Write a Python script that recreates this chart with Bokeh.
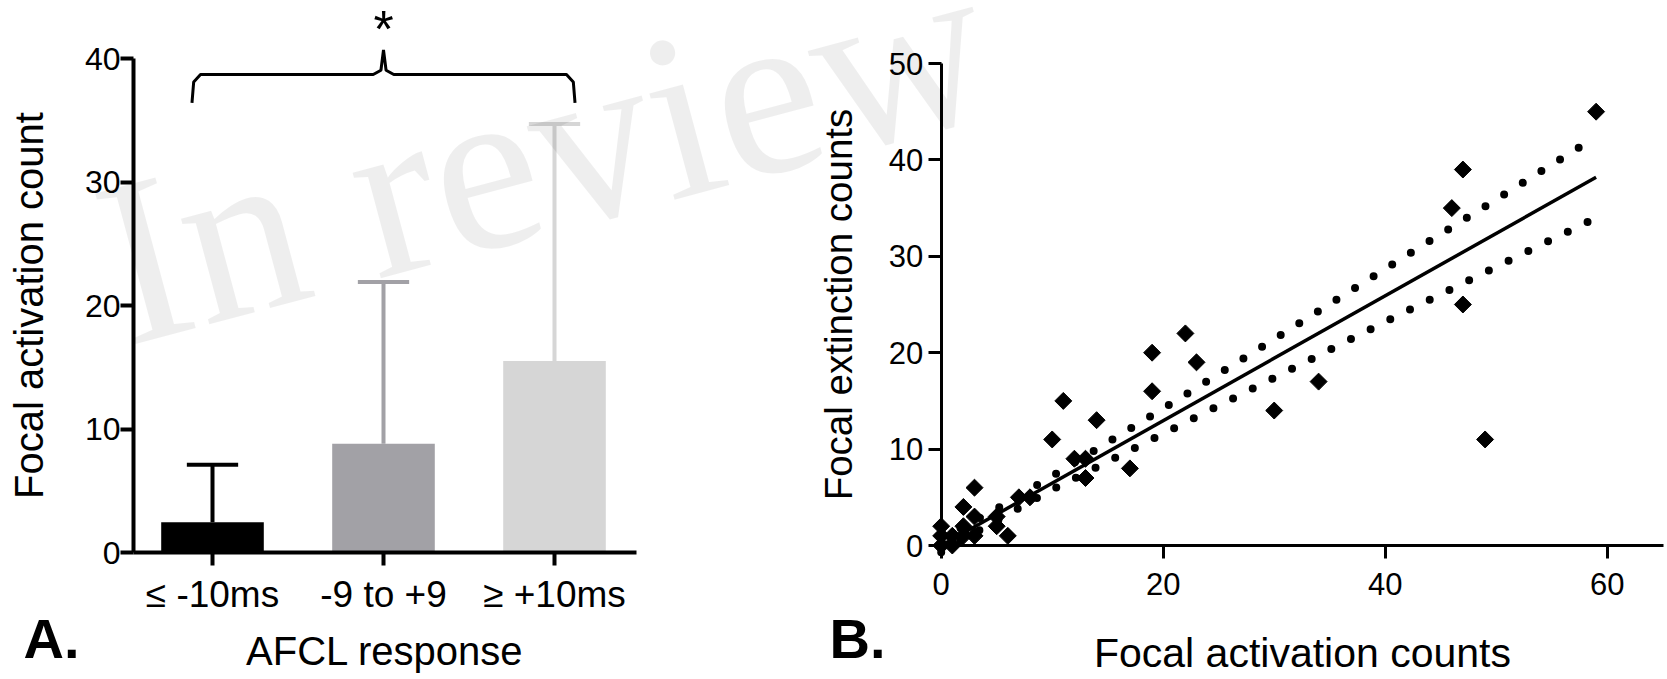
import numpy as np
from bokeh.plotting import figure
from bokeh.models import Range1d, FixedTicker, Label, LinearAxis
from bokeh.core.properties import value
from bokeh.embed import file_html
from bokeh.resources import INLINE

# ---------------- Panel A data ----------------
categories = ["≤ -10ms", "-9 to +9", "≥ +10ms"]
means = [2.45, 8.8, 15.5]
upper_err = [7.1, 21.9, 34.7]
bar_colors = ["#000000", "#a2a1a6", "#d6d6d6"]
y_ticks_a = [0, 10, 20, 30, 40]
sig_label = "*"

# ---------------- Panel B data ----------------
act_counts = [0, 0, 0, 1, 1, 2, 2, 2, 3, 3, 3, 5, 5, 6, 7, 8, 10, 11, 12, 13, 13, 14,
              17, 19, 19, 22, 23, 30, 34, 46, 47, 47, 49, 59]
ext_counts = [0, 1, 2, 0, 1, 1, 2, 4, 1, 3, 6, 2, 3, 1, 5, 5, 11, 15, 9, 9, 7, 13,
              8, 20, 16, 22, 19, 14, 17, 35, 39, 25, 11, 45]
fit_x = [0, 59]
fit_y = [0.0, 38.2]
band_x = [0, 5, 10, 20, 30, 40, 50, 59]
band_upper = [0.7, 3.8, 7.2, 14.2, 21.4, 28.7, 35.9, 42.4]
band_lower = [-0.7, 2.6, 5.8, 11.6, 17.4, 23.2, 28.9, 34.0]
x_ticks_b = [0, 20, 40, 60]
y_ticks_b = [0, 10, 20, 30, 40, 50]

FONT = "Liberation Sans"
W, H = 1667, 679          # whole canvas = one plot frame


def xr(px_at_v0, v0, ppu):
    return Range1d(v0 - px_at_v0 / ppu, v0 + (W - px_at_v0) / ppu)


def yr(py_at_0, ppu):
    return Range1d((py_at_0 - H) / ppu, py_at_0 / ppu)


# panel geometry (page pixels)
A_X1_PX, A_PPU_X = 212, 171        # centre of first category, px per category
A_Y0_PX, A_PPU_Y = 552, 12.35
A_LEFT_PX, A_RIGHT_PX = 133, 636
B_X0_PX, B_PPU_X = 940.7, 11.1
B_Y0_PX, B_PPU_Y = 545, 9.64
B_RIGHT_PX = 1663

p = figure(width=W, height=H, output_backend="svg", toolbar_location=None,
           x_range=Range1d(0, W), y_range=Range1d(0, H),
           x_axis_type=None, y_axis_type=None, title=None,
           min_border=0, min_border_left=0, min_border_right=0,
           min_border_top=0, min_border_bottom=0)
p.outline_line_color = None
p.grid.visible = False
p.extra_x_ranges = {"ax": xr(A_X1_PX, 1, A_PPU_X), "bx": xr(B_X0_PX, 0, B_PPU_X)}
p.extra_y_ranges = {"ay": yr(A_Y0_PX, A_PPU_Y), "by": yr(B_Y0_PX, B_PPU_Y)}


def px_to_ax(px):
    return 1 + (px - A_X1_PX) / A_PPU_X


def px_to_bx(px):
    return (px - B_X0_PX) / B_PPU_X


# ---------------- watermark ----------------
p.add_layout(Label(x=106, y=H - 268, text="In review", angle=15, angle_units="deg",
                   text_font="Liberation Serif", text_font_size="238px", text_color="black",
                   text_alpha=0.065, text_baseline="alphabetic", text_align="left"))

# ---------------- Panel A ----------------
A = dict(x_range_name="ax", y_range_name="ay")
xa = [i + 1 for i in range(len(categories))]
p.vbar(x=xa, top=means, width=0.6, bottom=0, fill_color=bar_colors, line_color=None, **A)
cap = 0.15
p.segment(x0=xa, y0=means, x1=xa, y1=upper_err, line_color=bar_colors, line_width=4, **A)
p.segment(x0=[v - cap for v in xa], y0=upper_err, x1=[v + cap for v in xa], y1=upper_err,
          line_color=bar_colors, line_width=4, **A)

bl, br, lvl = xa[0] - 0.12, xa[-1] + 0.12, 38.7
mid = (xa[0] + xa[-1]) / 2
brace_x = [bl, bl + 0.01, bl + 0.05, mid - 0.06, mid - 0.015, mid, mid + 0.015, mid + 0.06,
           br - 0.05, br - 0.01, br]
brace_y = [lvl - 2.3, lvl - 0.6, lvl, lvl, lvl + 0.35, lvl + 2.0, lvl + 0.35, lvl, lvl, lvl - 0.6, lvl - 2.3]
p.line(brace_x, brace_y, line_color="black", line_width=3, **A)
p.text(x=[mid], y=[lvl + 3.7], text=[sig_label], text_align="center", text_baseline="alphabetic",
       text_font=value(FONT), text_font_size="52px", text_color="black", **A)

xaxA = LinearAxis(x_range_name="ax", y_range_name="ay", fixed_location=0,
                  bounds=(px_to_ax(A_LEFT_PX), px_to_ax(A_RIGHT_PX)),
                  ticker=FixedTicker(ticks=xa),
                  major_label_overrides={v: c for v, c in zip(xa, categories)})
yaxA = LinearAxis(x_range_name="ax", y_range_name="ay", fixed_location=px_to_ax(A_LEFT_PX),
                  bounds=(0, 40), ticker=FixedTicker(ticks=y_ticks_a))
for ax in (xaxA, yaxA):
    ax.axis_line_width = 4
    ax.major_tick_line_width = 4
    ax.major_tick_out = 13
    ax.major_tick_in = 0
    ax.minor_tick_line_color = None
    ax.major_label_text_font = FONT
    ax.major_label_text_color = "black"
    ax.axis_label_text_font = FONT
    ax.axis_label_text_font_size = "40px"
    ax.axis_label_text_font_style = "normal"
    ax.axis_label_text_color = "black"
xaxA.major_label_text_font_size = "37px"
yaxA.major_label_text_font_size = "32px"
yaxA.axis_label = "Focal activation count"
xaxA.axis_label = "AFCL response"
yaxA.major_label_standoff = 0
xaxA.major_label_standoff = 8
yaxA.axis_label_standoff = 31
xaxA.axis_label_standoff = 11
p.add_layout(xaxA, "below")
p.add_layout(yaxA, "left")

# ---------------- Panel B ----------------
B = dict(x_range_name="bx", y_range_name="by")
p.line(band_x, band_upper, line_color="black", line_width=8, line_dash="0 22", line_cap="round", **B)
p.line(band_x, band_lower, line_color="black", line_width=8, line_dash="0 22", line_cap="round", **B)
p.line(fit_x, fit_y, line_color="black", line_width=3.5, **B)
p.scatter(act_counts, ext_counts, marker="square", angle=np.pi / 4, size=12,
          fill_color="black", line_color="black", **B)

xaxB = LinearAxis(x_range_name="bx", y_range_name="by", fixed_location=0,
                  bounds=(0, px_to_bx(B_RIGHT_PX)), ticker=FixedTicker(ticks=x_ticks_b))
yaxB = LinearAxis(x_range_name="bx", y_range_name="by", fixed_location=0,
                  bounds=(0, 50), ticker=FixedTicker(ticks=y_ticks_b))
for ax in (xaxB, yaxB):
    ax.axis_line_width = 3
    ax.major_tick_line_width = 3
    ax.major_tick_out = 13
    ax.major_tick_in = 0
    ax.minor_tick_line_color = None
    ax.major_label_text_font = FONT
    ax.major_label_text_font_size = "31px"
    ax.major_label_text_color = "black"
    ax.axis_label_text_font = FONT
    ax.axis_label_text_font_style = "normal"
    ax.axis_label_text_color = "black"
yaxB.axis_label_text_font_size = "38.5px"
xaxB.axis_label_text_font_size = "41px"
yaxB.axis_label = "Focal extinction counts"
xaxB.axis_label = "Focal activation counts"
yaxB.major_label_standoff = 5
xaxB.major_label_standoff = 14
yaxB.axis_label_standoff = 26
xaxB.axis_label_standoff = 32
p.add_layout(xaxB, "below")
p.add_layout(yaxB, "left")

# ---------------- panel letters ----------------
for letter, lx in (("A.", 23), ("B.", 829)):
    p.add_layout(Label(x=lx, y=H - 638, text=letter, text_font=FONT,
                       text_font_size="56px", text_font_style="bold", text_color="black",
                       text_baseline="alphabetic", text_align="left"))

open("out.html", "w").write(file_html(p, INLINE))
